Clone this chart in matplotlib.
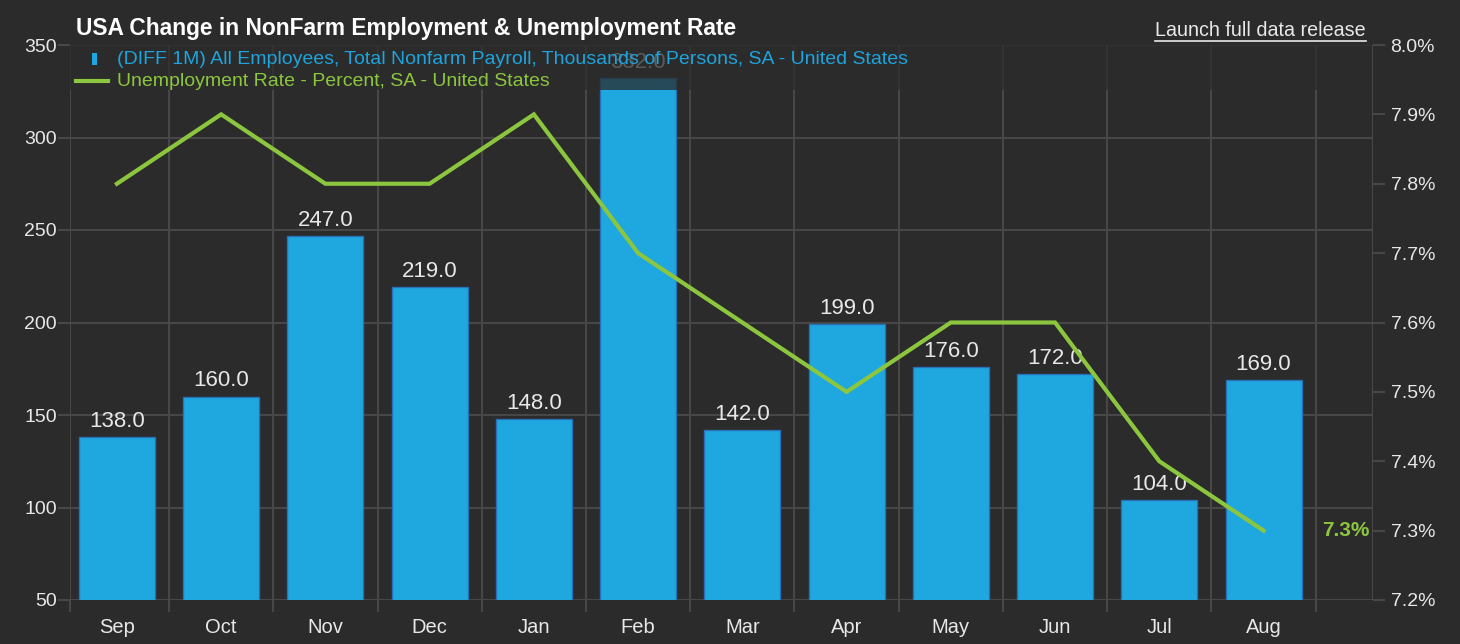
import matplotlib
matplotlib.use("Agg")
import matplotlib.pyplot as plt
from matplotlib.lines import Line2D
from matplotlib.patches import Rectangle
import numpy as np

months = ["Sep", "Oct", "Nov", "Dec", "Jan", "Feb", "Mar", "Apr", "May", "Jun", "Jul", "Aug"]
payrolls = [138, 160, 247, 219, 148, 332, 142, 199, 176, 172, 104, 169]
unemployment = [7.8, 7.9, 7.8, 7.8, 7.9, 7.7, 7.6, 7.5, 7.6, 7.6, 7.4, 7.3]
left_ticks = [50, 100, 150, 200, 250, 300, 350]
right_ticks = [7.2, 7.3, 7.4, 7.5, 7.6, 7.7, 7.8, 7.9, 8.0]

title = "USA Change in NonFarm Employment & Unemployment Rate"
bar_label = "(DIFF 1M) All Employees, Total Nonfarm Payroll, Thousands of Persons, SA - United States"
line_label = "Unemployment Rate - Percent, SA - United States"

BG = "#2b2b2b"
GRID = "#474747"
BAR = "#1fa8e0"
BAR_EDGE = "#2a70b8"
GREEN = "#8cc63e"
BLUE_TXT = "#1ea3dc"
TXT = "#e8e8e8"

plt.rcParams["font.family"] = ["Liberation Sans", "DejaVu Sans"]

W, H = 1460, 644
fig = plt.figure(figsize=(W / 100, H / 100), dpi=100, facecolor=BG)
L, R, B, T = 70, 1373, 600, 45
ax = fig.add_axes([L / W, 1 - B / H, (R - L) / W, (B - T) / H])
ax.set_facecolor(BG)
ax2 = ax.twinx()
ax2.patch.set_visible(False)

x = np.arange(len(months))
ax.bar(x, payrolls, width=0.73, color=BAR, edgecolor=BAR_EDGE, linewidth=1.0, zorder=3)
for xi, v in zip(x, payrolls):
    ax.annotate(f"{v:.1f}", (xi, v), xytext=(0, 5), textcoords="offset pixels",
                ha="center", va="bottom", color=TXT, fontsize=16, zorder=4)

x_lo, x_hi = -0.45, 12.05
ax.set_xlim(x_lo, x_hi)
ax.set_ylim(50, 350)
ax.set_yticks(left_ticks)
ax.set_xticks(x)
ax.set_xticklabels(months)
ax.set_xticks([x_lo] + list(np.arange(0.5, 12.0, 1.0)), minor=True)
ax.grid(True, which="major", axis="y", color=GRID, linewidth=1.5, zorder=0)
ax.grid(True, which="minor", axis="x", color=GRID, linewidth=1.5, zorder=0)
ax.tick_params(axis="y", which="major", length=8.6, width=1.5, color=GRID, labelcolor=TXT,
               labelsize=14, pad=1)
ax.tick_params(axis="x", which="major", length=0, labelsize=14.5, labelcolor=TXT, pad=13)
ax.tick_params(axis="x", which="minor", length=8.6, width=1.5, color=GRID)
for s in ax.spines.values():
    s.set_visible(False)
for s in ax2.spines.values():
    s.set_visible(False)

ax2.plot(x, unemployment, color=GREEN, linewidth=3, zorder=5, solid_joinstyle="miter")
ax2.set_ylim(7.2, 8.0)
ax2.set_yticks(right_ticks)
ax2.set_yticklabels([f"{t:.1f}%" for t in right_ticks])
ax2.tick_params(axis="y", length=8.6, width=1.5, color=GRID, labelcolor=TXT, labelsize=14, pad=4)
ax2.axvline(x_hi, color=GRID, linewidth=1.5)
ax2.annotate(f"{unemployment[-1]:.1f}%", (x[-1], unemployment[-1]), xytext=(82, 0),
             textcoords="offset pixels", ha="center", va="center", color=GREEN,
             fontsize=15, fontweight="bold")

# legend background band (semi-transparent, covers top of plot)
ax.add_patch(Rectangle((0, 1 - 45 / (B - T)), 1, 45 / (B - T), transform=ax.transAxes,
                       facecolor=BG, alpha=0.75, edgecolor="none", zorder=6))

# legend entries
fig.add_artist(Rectangle((92 / W, 1 - 65 / H), 5 / W, 12 / H, transform=fig.transFigure,
                         facecolor=BAR, edgecolor="none"))
fig.add_artist(Line2D([76 / W, 108 / W], [1 - 81 / H, 1 - 81 / H], transform=fig.transFigure,
                      color=GREEN, linewidth=3))
fig.text(117 / W, 1 - 59 / H, bar_label, color=BLUE_TXT, fontsize=14, va="center", ha="left")
fig.text(117 / W, 1 - 81 / H, line_label, color=GREEN, fontsize=14, va="center", ha="left")

fig.text(76 / W, 1 - 28 / H, title, color="white", fontsize=16.4, fontweight="bold",
         va="center", ha="left")
launch = fig.text(1366 / W, 1 - 30 / H, "Launch full data release", color=TXT, fontsize=14.2,
                  va="center", ha="right")
fig.canvas.draw()
bb = launch.get_window_extent().transformed(fig.transFigure.inverted())
fig.add_artist(Line2D([bb.x0, bb.x1], [bb.y0 - 1 / H, bb.y0 - 1 / H], transform=fig.transFigure,
                      color=TXT, linewidth=1.2))

fig.savefig("out.png", dpi=100, facecolor=BG)
